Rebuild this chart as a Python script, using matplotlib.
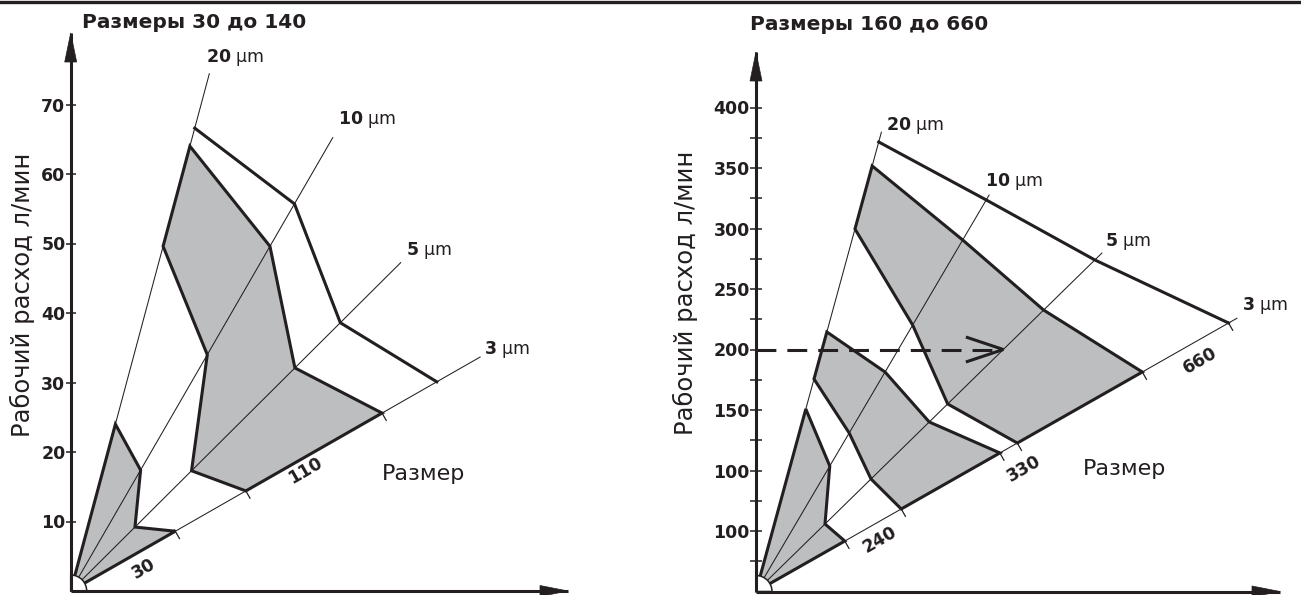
import matplotlib
matplotlib.use("Agg")
import matplotlib.pyplot as plt
from matplotlib.patches import Polygon, Wedge
from matplotlib.lines import Line2D

# Filter fineness rays (µm), outermost to innermost
fineness = ["20", "10", "5", "3"]

# ---- Panel 1: sizes 30 .. 140 ----
small_title = "Размеры 30 до 140"
small_flow_ticks = [10, 20, 30, 40, 50, 60, 70]
small_size_labels = ["30", "110"]
# flow (l/min) at which each boundary crosses the 20 / 10 / 5 / 3 µm rays
small_band_30 = [24.0, 17.4, 9.2, 8.6]
small_band_110_low = [49.6, 34.0, 17.3, 14.4]
small_band_110_high = [64.0, 49.6, 32.1, 25.6]
small_band_140 = [66.6, 55.7, 38.6, 30.1]
small_ray_ends = [74.5, 65.3, 47.3, 33.7]

# ---- Panel 2: sizes 160 .. 660 ----
large_title = "Размеры 160 до 660"
large_flow_ticks = [50, 100, 150, 200, 250, 300, 350, 400]
large_flow_ticklabels = ["100", "100", "150", "200", "250", "300", "350", "400"]
large_minor_ticks = [25, 75, 125, 175, 225, 275, 325, 375]
large_size_labels = ["240", "330", "660"]
large_band_160 = [150.8, 103.7, 55.8, 41.7]
large_band_240_low = [175.6, 131.0, 93.0, 68.2]
large_band_240_high = [214.5, 181.4, 140.1, 114.5]
large_band_330_low = [299.6, 220.2, 155.0, 122.7]
large_band_330_high = [351.7, 290.5, 232.6, 181.4]
large_band_660 = [371.5, 323.6, 274.0, 221.9]
large_ray_ends = [380.0, 328.0, 280.0, 226.0]
example_flow = 200

y_label = "Рабочий расход л/мин"
x_label = "Размер"

# ---------------------------------------------------------------------------
W, H = 1301, 595
INK = "#231f20"
GREY = "#bcbec0"
THICK = 2.2
THIN = 0.75

plt.rcParams["font.family"] = ["DejaVu Sans"]
plt.rcParams["mathtext.fontset"] = "dejavusans"

fig = plt.figure(figsize=(W / 100, H / 100), dpi=100)


def ftext(xp, yp, s, **kw):
    return fig.text(xp / W, 1 - yp / H, s, **kw)


def make_axes(ox, oy, tip_x, tip_y, ppu):
    ax = fig.add_axes([ox / W, (H - oy) / H, (tip_x - ox) / W, (oy - tip_y) / H])
    ax.set_xlim(0, (tip_x - ox) / ppu)
    ax.set_ylim(0, (oy - tip_y) / ppu)
    ax.patch.set_alpha(0)
    for side in ("top", "right"):
        ax.spines[side].set_visible(False)
    for side in ("left", "bottom"):
        ax.spines[side].set_linewidth(THICK)
        ax.spines[side].set_color(INK)
        ax.spines[side].set_zorder(10)
        ax.spines[side].set_capstyle("butt")
    ax.set_xticks([])
    ax.tick_params(axis="y", which="both", direction="inout", width=1.1,
                   color=INK, pad=0, labelsize=12.5, labelcolor=INK)
    # arrow heads
    xmax, ymax = ax.get_xlim()[1], ax.get_ylim()[1]
    hl, hw = 29 / ppu, 6 / ppu
    ax.add_patch(Polygon([(0, ymax), (-hw, ymax - hl), (hw, ymax - hl)],
                         closed=True, fc=INK, ec=INK, lw=0.5, clip_on=False, zorder=11))
    hl, hw = 28 / ppu, 5.5 / ppu
    ax.add_patch(Polygon([(xmax, 0), (xmax - hl, hw), (xmax - hl, -hw)],
                         closed=True, fc=INK, ec=INK, lw=0.5, clip_on=False, zorder=11))
    return ax


def on_rays(slopes, flows):
    return [(s * f, f) for s, f in zip(slopes, flows)]


def band_vertices(slopes, band):
    if len(band) == 1:
        return [(0, 0)] + on_rays(slopes, band[0])
    return on_rays(slopes, band[0]) + on_rays(slopes, band[1])[::-1]


def draw_panel(ax, ppu, slopes, ray_ends, filled, open_line):
    # filled bands
    for band in filled:
        ax.add_patch(Polygon(band_vertices(slopes, band), closed=True,
                             fc=GREY, ec="none", zorder=1))
    # rays
    for s, e in zip(slopes, ray_ends):
        ax.plot([0, s * e], [0, e], color=INK, lw=THIN, zorder=2,
                solid_capstyle="butt", clip_on=False)
    # band outlines
    for band in filled:
        ax.add_patch(Polygon(band_vertices(slopes, band), closed=True, fc="none",
                             ec=INK, lw=THICK, joinstyle="miter", zorder=3))
    pts = on_rays(slopes, open_line)
    ax.plot([p[0] for p in pts], [p[1] for p in pts], color=INK, lw=THICK,
            solid_joinstyle="miter", zorder=3)
    # origin cap
    ax.add_patch(Wedge((0, 0), 16 / ppu, 0, 90, fc="white", ec=INK, lw=1.1,
                       zorder=6, clip_on=False))


def size_ticks(ax, ppu, slope, flows):
    n = (slope ** 2 + 1) ** 0.5
    px, py = 1 / n, -slope / n
    for f in flows:
        x0, y0 = slope * f, f
        a, b = -2 / ppu, 9 / ppu
        ax.plot([x0 + a * px, x0 + b * px], [y0 + a * py, y0 + b * py],
                color=INK, lw=0.9, zorder=4, solid_capstyle="butt")


# ---------------- panel 1 ----------------
ppu1 = 6.95
ax1 = make_axes(70.7, 591, 568, 33, ppu1)
ax1.set_yticks(small_flow_ticks)
ax1.set_yticklabels([str(v) for v in small_flow_ticks], fontweight="bold")
ax1.tick_params(axis="y", length=7.5)
slopes1 = [0.268, 0.578, 1.005, 1.75]
draw_panel(ax1, ppu1, slopes1, small_ray_ends,
           [[small_band_30], [small_band_110_low, small_band_110_high]],
           small_band_140)
size_ticks(ax1, ppu1, slopes1[-1],
           [small_band_30[-1], small_band_110_low[-1], small_band_110_high[-1]])

# ---------------- panel 2 ----------------
ppu2 = 1.21
ax2 = make_axes(756, 591.5, 1280, 52, ppu2)
ax2.set_yticks(large_flow_ticks)
ax2.set_yticklabels(large_flow_ticklabels, fontweight="bold")
ax2.set_yticks(large_minor_ticks, minor=True)
ax2.tick_params(axis="y", which="both", length=9)
slopes2 = [0.273, 0.588, 1.022, 1.76]
draw_panel(ax2, ppu2, slopes2, large_ray_ends,
           [[large_band_160], [large_band_240_low, large_band_240_high],
            [large_band_330_low, large_band_330_high]],
           large_band_660)
size_ticks(ax2, ppu2, slopes2[-1],
           [large_band_160[-1], large_band_240_low[-1], large_band_240_high[-1],
            large_band_330_low[-1], large_band_330_high[-1], large_band_660[-1]])

# reading example: 200 l/min up to the 5 µm ray
tip_x = slopes2[2] * example_flow
ax2.plot([0, tip_x - 4 / ppu2], [example_flow, example_flow], color=INK, lw=THICK,
         linestyle=(0, (6.5, 3.6)), zorder=7, clip_on=False)
al, aw = 36 / ppu2, 12 / ppu2
ax2.plot([tip_x - al, tip_x, tip_x - al],
         [example_flow + aw, example_flow, example_flow - aw],
         color=INK, lw=THICK, solid_joinstyle="miter", zorder=7)

# ---------------- texts ----------------
ftext(82, 28, small_title, ha="left", va="baseline", fontweight="bold",
      fontsize=14.5, color=INK)
ftext(750, 30, large_title, ha="left", va="baseline", fontweight="bold",
      fontsize=14.5, color=INK)

mu_pos_1 = [(235, 57), (367, 120), (429, 250), (507, 349)]
mu_pos_2 = [(915, 126), (1014, 182), (1128, 241), (1265, 306)]
for lab, p in zip(fineness, mu_pos_1):
    ftext(p[0], p[1], r"$\mathbf{%s}$ µm" % lab, ha="center", va="center",
          fontsize=12.5, color=INK)
for lab, p in zip(fineness, mu_pos_2):
    ftext(p[0], p[1], r"$\mathbf{%s}$ µm" % lab, ha="center", va="center",
          fontsize=12.5, color=INK)

for lab, p in zip(small_size_labels, [(144, 569), (305, 471)]):
    ftext(p[0], p[1], lab, ha="center", va="center", rotation=30,
          rotation_mode="anchor", fontweight="bold", fontsize=12.5, color=INK)
for lab, p in zip(large_size_labels, [(880, 540), (1024, 469), (1200, 361)]):
    ftext(p[0], p[1], lab, ha="center", va="center", rotation=30,
          rotation_mode="anchor", fontweight="bold", fontsize=12.5, color=INK)

ftext(22, 295, y_label, rotation=90, ha="center", va="center", fontsize=17.5, color=INK)
ftext(685, 293, y_label, rotation=90, ha="center", va="center", fontsize=17.5, color=INK)
ftext(382, 480, x_label, ha="left", va="baseline", fontsize=16, color=INK)
ftext(1083, 475, x_label, ha="left", va="baseline", fontsize=16, color=INK)

# page rule across the top
fig.add_artist(Line2D([0, 1], [1 - 1.5 / H, 1 - 1.5 / H], color=INK, lw=2.4,
                      transform=fig.transFigure))

fig.savefig("out.png", dpi=100)
